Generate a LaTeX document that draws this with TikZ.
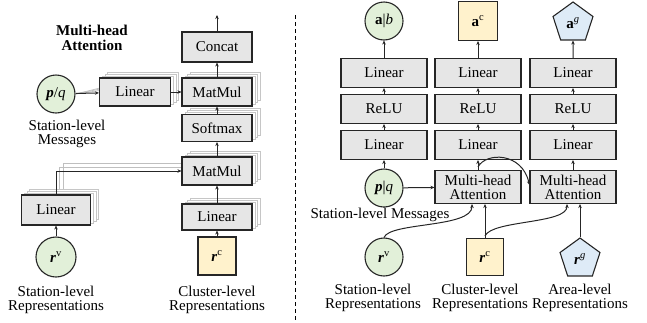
\documentclass[tikz,border=0pt]{standalone}
\usepackage{fontspec}
\setmainfont{Liberation Serif}
\usetikzlibrary{arrows.meta,shapes.geometric,shadows,calc}

\definecolor{boxfill}{HTML}{E6E6E6}
\definecolor{greenfill}{HTML}{E2F0D9}
\definecolor{yellowfill}{HTML}{FFF2CC}
\definecolor{bluefill}{HTML}{DEEBF7}
\definecolor{edge}{HTML}{262626}

\begin{document}
\begin{tikzpicture}[x=1pt,y=-1pt,
  font=\fontsize{15}{14}\selectfont,
  blk/.style={draw=edge, line width=1.1pt, fill=boxfill, inner sep=0pt,
    minimum width=70pt, minimum height=28pt, align=center},
  wblk/.style={blk, minimum width=86pt, minimum height=29pt},
  stk/.style={
    copy shadow={shadow xshift=8pt, shadow yshift=6pt, draw=gray!45, fill=white, line width=0.7pt},
    copy shadow={shadow xshift=5.5pt, shadow yshift=4pt, draw=gray!45, fill=white, line width=0.7pt},
    copy shadow={shadow xshift=3pt, shadow yshift=2pt, draw=gray!45, fill=white, line width=0.7pt}},
  rnd/.style={circle, draw=edge, line width=1.1pt, fill=greenfill, minimum size=38pt, inner sep=0pt},
  sqr/.style={rectangle, draw=edge, line width=1.1pt, fill=yellowfill, minimum size=38pt, inner sep=0pt},
  pent/.style={regular polygon, regular polygon sides=5, draw=edge, line width=1.1pt, fill=bluefill,
    minimum size=42pt, inner sep=0pt},
  lbl/.style={align=center, inner sep=0pt},
  arr/.style={draw=edge, line width=1pt, -{Stealth[length=4pt,width=3.5pt]}},
  ghost/.style={draw=gray!50, line width=0.7pt}]
\useasboundingbox (0,0) rectangle (647,322);

% ---------------- multi-head attention block ----------------
\node[lbl, font=\fontsize{15}{14.5}\selectfont\bfseries] (title) at (92,38) {Multi-head\\Attention};

\node[rnd] (pq) at (56,94) {\textbf{\textit{p}}/\textit{q}};
\node[lbl] (msg) at (67,134) {Station-level\\Messages};

% faint copies of the shared connectors (one per head)
\draw[ghost] (pq.east) -- (103,90);
\draw[ghost] (pq.east) -- (105,88);
\draw[ghost] (pq.east) -- (108,86);
\draw[ghost] (59,196) |- (185,167);
\draw[ghost] (63,195) |- (188,163);

\node[blk, stk, minimum width=71pt] (linq) at (135,92) {Linear};
\node[blk, stk] (mmtop) at (217,92) {MatMul};
\node[blk, minimum height=30pt] (concat) at (217,47) {Concat};
\node[blk, stk, minimum height=27pt] (soft) at (217,128) {Softmax};
\node[blk, stk] (mmlow) at (217,171) {MatMul};
\node[blk, stk, minimum height=26pt] (linc) at (217,217) {Linear};
\node[blk, stk, minimum width=69pt, minimum height=30pt] (linv) at (56,210) {Linear};

\node[rnd, minimum size=40pt] (rv) at (56,257) {\textbf{\textit{r}}\textsuperscript{v}};
\node[sqr] (rc) at (217,256) {\textbf{\textit{r}}\textsuperscript{c}};

\node[lbl] (repv) at (56,300) {Station-level\\Representations};
\node[lbl] (repc) at (217,300) {Cluster-level\\Representations};

\coordinate (out) at (217,15);

\draw[arr] (pq) -- (linq);
\draw[arr] (linq) -- (mmtop);
\draw[arr] (mmtop) -- (concat);
\draw[arr] (concat) -- (out);
\draw[arr] (soft) -- (mmtop);
\draw[arr] (mmlow) -- (soft);
\draw[arr] (linc) -- (mmlow);
\draw[arr] (rc) -- (linc);
\draw[arr] (rv) -- (linv);
\draw[arr] (linv.north) |- (mmlow.west);

% ---------------- divider ----------------
\coordinate (dtop) at (295,15);
\coordinate (dbot) at (295,322);
\draw[line width=1pt, dash pattern=on 4pt off 3pt] (dtop) -- (dbot);

% ---------------- decoding heads ----------------
\foreach \c/\x in {a/384, b/478, g/573}{
  \node[wblk] (top\c) at (\x,73) {Linear};
  \node[wblk] (relu\c) at (\x,109) {ReLU};
  \node[wblk] (bot\c) at (\x,145) {Linear};
  \draw[arr] (relu\c) -- (top\c);
  \draw[arr] (bot\c) -- (relu\c);
}

\node[rnd] (oa) at (384,21) {\textbf{a}|\textit{b}};
\node[sqr, minimum size=39pt] (ob) at (478,21) {\textbf{a}\textsuperscript{c}};
\node[pent] (og) at (573,23) {\textbf{a}\textsuperscript{\textit{g}}};
\draw[arr] (topa) -- (oa);
\draw[arr] (topb) -- (ob);
\draw[arr] (topg.north) -- (og.south);

\node[rnd] (pq2) at (384,188) {\textbf{\textit{p}}|\textit{q}};
\node[lbl] (msg2) at (380,215) {Station-level Messages};
\node[wblk, minimum height=33pt] (mhab) at (478,187) {Multi-head\\Attention};
\node[wblk, minimum height=33pt] (mhag) at (573,187) {Multi-head\\Attention};

\node[rnd] (rv2) at (384,257) {\textbf{\textit{r}}\textsuperscript{v}};
\node[sqr, minimum size=37pt] (rc2) at (485,257) {\textbf{\textit{r}}\textsuperscript{c}};
\node[pent] (rg2) at (580,259) {\textbf{\textit{r}}\textsuperscript{\textit{g}}};

\node[lbl] (repv2) at (373,298) {Station-level\\Representations};
\node[lbl] (repc2) at (480,298) {Cluster-level\\Representations};
\node[lbl] (repg2) at (580,298) {Area-level\\Representations};

\draw[arr] (pq2) -- (bota);
\draw[arr] (pq2) -- (mhab);
\draw[arr] (mhab) -- (botb);
\draw[arr] (mhag) -- (botg);
\draw[arr] (rc2.north) -- (rc2.north |- mhab.south);
\draw[arr] (rg2.north) -- (rg2.north |- mhag.south);
\draw[arr] (rv2.north) .. controls (390,222) and (472,228) .. ($(mhab.south)+(-6,0)$);
\draw[arr] ($(rc2.north)+(0,-2)$) .. controls (492,220) and (567,224) .. ($(mhag.south)+(-6,0)$);
\draw[arr] ($(mhab.north)+(0,-3)$) .. controls (486,152) and (522,152) .. ($(mhag.west)+(0,-2)$);
\end{tikzpicture}
\end{document}
